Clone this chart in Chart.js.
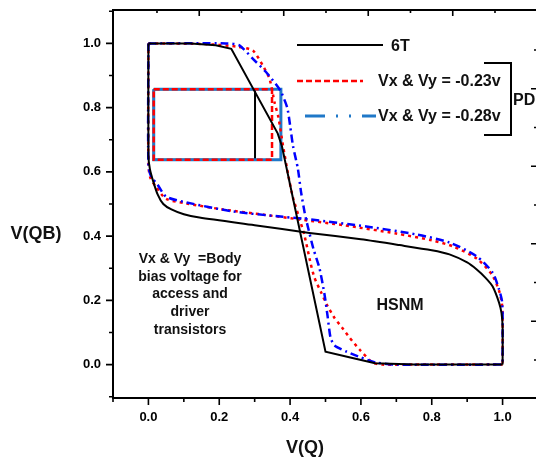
<!DOCTYPE html>
<html>
<head>
<meta charset="utf-8">
<script src="https://cdn.jsdelivr.net/npm/chart.js@4.4.1/dist/chart.umd.min.js"></script>
<style>
  html, body { margin: 0; padding: 0; background: #fff; overflow: hidden; }
  canvas { display: block; }
</style>
</head>
<body>
<canvas id="myChart" width="550" height="459"></canvas>
<script>
// butterfly curves
// 6T
const t6A_x = [0, 0.12, 0.19, 0.234, 0.365, 0.377, 0.50, 0.57, 0.64, 0.75, 1.0];
const t6A_y = [1.0, 1.0, 0.994, 0.983, 0.72, 0.68, 0.04, 0.022, 0.004, 0, 0];
const t6B_x = [0, 0, 0.004, 0.012, 0.026, 0.042, 0.065, 0.10, 0.144, 0.30, 0.455, 0.60, 0.709, 0.80, 0.85, 0.90, 0.927, 0.952, 0.972, 0.99, 0.997, 1.0, 1.0];
const t6B_y = [1.0, 0.65, 0.61, 0.576, 0.53, 0.50, 0.483, 0.468, 0.458, 0.434, 0.41, 0.39, 0.372, 0.356, 0.343, 0.318, 0.296, 0.27, 0.243, 0.193, 0.16, 0.118, 0.0];
// Vx & Vy = -0.23v
const pd23A_x = [0, 0.16, 0.25, 0.295, 0.323, 0.342, 0.356, 0.367, 0.38, 0.394, 0.408, 0.425, 0.441, 0.458, 0.469, 0.488, 0.506, 0.525, 0.547, 0.568, 0.596, 0.633, 0.66, 0.75, 1.0];
const pd23A_y = [1.0, 0.998, 0.99, 0.978, 0.931, 0.89, 0.817, 0.77, 0.682, 0.595, 0.52, 0.46, 0.40, 0.315, 0.27, 0.224, 0.182, 0.146, 0.115, 0.084, 0.047, 0.006, 0.0, 0.0, 0.0];
const pd23B_x = [0, 0, 0.006, 0.022, 0.05, 0.106, 0.21, 0.33, 0.427, 0.55, 0.70, 0.80, 0.86, 0.927, 0.97, 0.99, 0.998, 1.0, 1.0];
const pd23B_y = [1.0, 0.62, 0.58, 0.553, 0.516, 0.502, 0.483, 0.466, 0.452, 0.434, 0.408, 0.387, 0.368, 0.33, 0.28, 0.23, 0.19, 0.155, 0.0];
// Vx & Vy = -0.28v
const pd28A_x = [0, 0.219, 0.257, 0.295, 0.332, 0.372, 0.392, 0.400, 0.408, 0.422, 0.431, 0.441, 0.45, 0.466, 0.483, 0.497, 0.506, 0.514, 0.525, 0.56, 0.60, 0.643, 0.70, 1.0];
const pd28A_y = [1.0, 1.0, 0.994, 0.952, 0.911, 0.854, 0.80, 0.745, 0.682, 0.61, 0.537, 0.474, 0.43, 0.36, 0.30, 0.22, 0.15, 0.085, 0.06, 0.04, 0.022, 0.006, 0.0, 0.0];
const pd28B_x = [0, 0, 0.008, 0.026, 0.05, 0.107, 0.238, 0.38, 0.455, 0.615, 0.757, 0.85, 0.927, 0.972, 0.99, 0.998, 1.0, 1.0];
const pd28B_y = [1.0, 0.62, 0.585, 0.56, 0.523, 0.505, 0.477, 0.46, 0.452, 0.43, 0.405, 0.38, 0.337, 0.286, 0.234, 0.2, 0.162, 0.0];

// SNM squares [left, right, bottom, top]
const box6T = [0.015, 0.301, 0.638, 0.857];
const box23 = [0.015, 0.349, 0.638, 0.857];
const box28 = [0.015, 0.374, 0.638, 0.857];

const xTickVals = [0, 0.2, 0.4, 0.6, 0.8, 1.0];
const xMinorVals = [-0.1, 0.1, 0.3, 0.5, 0.7, 0.9, 1.1];
const yTickVals = [0, 0.2, 0.4, 0.6, 0.8, 1.0];
const yMinorVals = [-0.1, 0.1, 0.3, 0.5, 0.7, 0.9, 1.1];
const topTickVals = [0, 1, 2, 3, 4, 5, 6, 7, 8];
const rightTickVals = [0, 1, 2, 3, 4, 5, 6, 7, 8];

const noteLines = ["Vx & Vy  =Body", "bias voltage for", "access and", "driver", "transistors"];

const FONT = '"Liberation Sans", Arial, sans-serif';
const STEEL = "#1f78c8";

function pts(xs, ys) {
  return xs.map((x, i) => ({ x: x, y: ys[i] }));
}
function boxPts(b) {
  return [
    { x: b[0], y: b[3] }, { x: b[1], y: b[3] }, { x: b[1], y: b[2] },
    { x: b[0], y: b[2] }, { x: b[0], y: b[3] },
  ];
}

const decor = {
  id: "decor",
  afterDatasetsDraw(chart) {
    const ctx = chart.ctx;
    const area = chart.chartArea;
    const xs = chart.scales.x, ys = chart.scales.y;
    const xt = chart.scales.x2, yr = chart.scales.y2;
    ctx.save();
    ctx.strokeStyle = "#000";
    ctx.lineWidth = 2;
    ctx.strokeRect(area.left, area.top, area.right - area.left, area.bottom - area.top);

    ctx.lineWidth = 1.6;
    ctx.beginPath();
    xTickVals.forEach((v) => {
      const p = xs.getPixelForValue(v);
      ctx.moveTo(p, area.bottom); ctx.lineTo(p, area.bottom + 7);
    });
    xMinorVals.forEach((v) => {
      const p = xs.getPixelForValue(v);
      ctx.moveTo(p, area.bottom); ctx.lineTo(p, area.bottom + 4);
    });
    yTickVals.forEach((v) => {
      const p = ys.getPixelForValue(v);
      ctx.moveTo(area.left, p); ctx.lineTo(area.left - 7, p);
    });
    yMinorVals.forEach((v) => {
      const p = ys.getPixelForValue(v);
      ctx.moveTo(area.left, p); ctx.lineTo(area.left - 4, p);
    });
    topTickVals.forEach((v) => {
      const p = xt.getPixelForValue(v);
      ctx.moveTo(p, area.top); ctx.lineTo(p, area.top + (v % 2 ? 6 : 3));
    });
    rightTickVals.forEach((v) => {
      const p = yr.getPixelForValue(v);
      ctx.moveTo(area.right, p); ctx.lineTo(area.right - (v % 2 ? 7 : 4), p);
    });
    ctx.stroke();

    // legend
    ctx.lineWidth = 2.2;
    ctx.strokeStyle = "#000";
    ctx.setLineDash([]);
    ctx.beginPath(); ctx.moveTo(297, 45); ctx.lineTo(383, 45); ctx.stroke();
    ctx.strokeStyle = "#ff0000";
    ctx.lineWidth = 2.5;
    ctx.setLineDash([6, 3]);
    ctx.beginPath(); ctx.moveTo(297, 81); ctx.lineTo(363, 81); ctx.stroke();
    ctx.strokeStyle = STEEL;
    ctx.lineWidth = 3;
    ctx.setLineDash([20, 11, 2, 11, 2, 11]);
    ctx.beginPath(); ctx.moveTo(305, 116); ctx.lineTo(376, 116); ctx.stroke();
    ctx.setLineDash([]);

    ctx.fillStyle = "#111";
    ctx.textBaseline = "middle";
    ctx.textAlign = "left";
    ctx.font = "bold 16px " + FONT;
    ctx.fillText("6T", 391, 47);
    ctx.fillText("Vx & Vy = -0.23v", 378, 82);
    ctx.fillText("Vx & Vy = -0.28v", 378, 117);
    ctx.fillText("PD", 513, 101);

    // bracket
    ctx.strokeStyle = "#000";
    ctx.lineWidth = 2;
    ctx.beginPath();
    ctx.moveTo(484, 63); ctx.lineTo(511, 63); ctx.lineTo(511, 135); ctx.lineTo(484, 135);
    ctx.stroke();

    ctx.textAlign = "center";
    ctx.fillText("HSNM", 400, 306);
    ctx.font = "bold 14px " + FONT;
    noteLines.forEach((t, i) => ctx.fillText(t, 190, 259 + i * 17.8));

    ctx.font = "bold 18px " + FONT;
    ctx.fillText("V(QB)", 36, 234);
    ctx.fillText("V(Q)", 305, 448);
    ctx.restore();
  },
};

const ctx = document.getElementById("myChart").getContext("2d");
const line = (label, data, color, width, dash, order, tension) => ({
  label, data, borderColor: color, borderWidth: width, borderDash: dash,
  showLine: true, pointRadius: 0, fill: false, order, tension,
});

const myChart = new Chart(ctx, {
  type: "scatter",
  data: {
    datasets: [
      line("6T", pts(t6A_x, t6A_y), "#000", 2, [], 1, 0),
      line("6T mirror", pts(t6B_x, t6B_y), "#000", 2, [], 1, 0.25),
      line("-0.28v", pts(pd28A_x, pd28A_y), "#0000ff", 2.5, [8, 4, 2, 4], 2, 0.2),
      line("-0.28v mirror", pts(pd28B_x, pd28B_y), "#0000ff", 2.5, [8, 4, 2, 4], 2, 0.25),
      line("-0.23v", pts(pd23A_x, pd23A_y), "#ff0000", 2.5, [3, 4], 3, 0.2),
      line("-0.23v mirror", pts(pd23B_x, pd23B_y), "#ff0000", 2.5, [3, 4], 3, 0.25),
      line("box -0.23v", boxPts(box23), "#ff0000", 2.5, [6, 3], 4, 0),
      line("box -0.28v", boxPts(box28), STEEL, 3, [], 5, 0),
      line("box 6T", boxPts(box6T), "#000", 2, [], 6, 0),
    ],
  },
  options: {
    responsive: false,
    animation: false,
    devicePixelRatio: 1,
    layout: { padding: { top: 10, right: 12, left: 0, bottom: 0 } },
    plugins: { legend: { display: false }, tooltip: { enabled: false } },
    scales: {
      x: {
        type: "linear", position: "bottom", min: -0.1, max: 1.1,
        grid: { display: false, drawTicks: false }, border: { display: false },
        afterBuildTicks: (s) => { s.ticks = xTickVals.map((v) => ({ value: v })); },
        afterFit: (s) => { s.height = 61; s.paddingLeft = 0; s.paddingRight = 0; },
        ticks: {
          padding: 12, color: "#000", font: { family: FONT, size: 13, weight: "bold" },
          callback: (v) => Number(v).toFixed(1),
        },
      },
      y: {
        type: "linear", position: "left", min: -0.104, max: 1.104,
        grid: { display: false, drawTicks: false }, border: { display: false },
        afterBuildTicks: (s) => { s.ticks = yTickVals.map((v) => ({ value: v })); },
        afterFit: (s) => { s.width = 113; s.paddingTop = 0; s.paddingBottom = 0; },
        ticks: {
          padding: 12, color: "#000", font: { family: FONT, size: 13, weight: "bold" },
          callback: (v) => Number(v).toFixed(1),
        },
      },
      x2: { type: "linear", position: "top", display: false, min: -1.041, max: 9.018 },
      y2: { type: "linear", position: "right", display: false, min: -0.981, max: 9.032 },
    },
  },
  plugins: [decor],
});
</script>
</body>
</html>
